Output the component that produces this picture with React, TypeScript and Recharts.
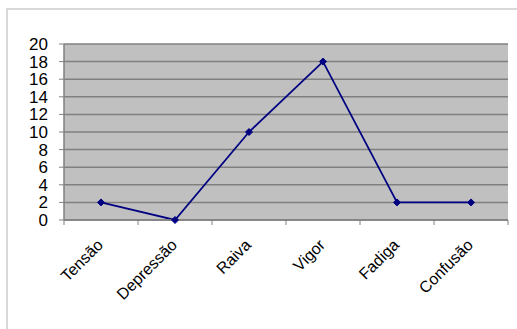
import React from 'react';
import { LineChart, Line, XAxis, YAxis, CartesianGrid } from 'recharts';

const categories = ['Tensão', 'Depressão', 'Raiva', 'Vigor', 'Fadiga', 'Confusão'];
const values = [2, 0, 10, 18, 2, 2];
const yTicks = [0, 2, 4, 6, 8, 10, 12, 14, 16, 18, 20];

const data = categories.map((name, i) => ({ name, value: values[i] }));

const W = 517;
const H = 329;
const margin = { top: 44, right: 9, left: 0, bottom: 0 };
const yAxisWidth = 64;
const xAxisHeight = 109;
const plotW = W - margin.left - margin.right - yAxisWidth;
const band = plotW / categories.length;
const FONT = "'Liberation Sans', Arial, sans-serif";
const yLabelRight = margin.left + yAxisWidth - 5 - 11;

const Diamond = (props: any) => {
  const { cx, cy } = props;
  if (cx == null || cy == null) return null;
  const r = 3.5;
  return (
    <path
      d={`M${cx},${cy - r} L${cx + r},${cy} L${cx},${cy + r} L${cx - r},${cy} Z`}
      fill="#000080"
      stroke="#000080"
    />
  );
};

const XTick = (props: any) => {
  const { x, y, payload, index } = props;
  const left = x - band / 2;
  const ax = x + 3;
  const ay = y + 18;
  return (
    <g>
      <line x1={left} y1={y - 8} x2={left} y2={y - 3} stroke="#808080" strokeWidth={1} />
      {index === categories.length - 1 && (
        <line x1={x + band / 2} y1={y - 8} x2={x + band / 2} y2={y - 3} stroke="#808080" strokeWidth={1} />
      )}
      <text
        x={ax}
        y={ay}
        textAnchor="end"
        transform={`rotate(-45 ${ax} ${ay})`}
        fontSize={16}
        fontFamily={FONT}
        fill="#000"
      >
        {payload.value}
      </text>
    </g>
  );
};

const YTick = (props: any) => {
  const { y, payload } = props;
  return (
    <text
      x={yLabelRight}
      y={y}
      dy="0.355em"
      textAnchor="end"
      fontSize={17}
      fontFamily={FONT}
      fill="#000"
    >
      {payload.value}
    </text>
  );
};

export default function App() {
  return (
    <div style={{ position: 'absolute', left: 0, top: 0, width: W, height: H, background: '#fff', overflow: 'hidden' }}>
      <div
        style={{
          position: 'absolute',
          left: 6,
          top: 8,
          width: 530,
          height: 340,
          border: '2px solid #d9d9d9',
          boxSizing: 'border-box',
        }}
      />
      <div style={{ position: 'absolute', left: 0, top: 0 }}>
        <LineChart width={W} height={H} data={data} margin={margin}>
          <CartesianGrid
            horizontal
            vertical={false}
            fill="#c0c0c0"
            stroke="#808080"
            strokeWidth={1.5}
          />
          <XAxis
            dataKey="name"
            height={xAxisHeight}
            interval={0}
            padding={{ left: band / 2, right: band / 2 }}
            tickLine={false}
            axisLine={{ stroke: '#808080', strokeWidth: 1.5 }}
            tick={<XTick />}
          />
          <YAxis
            domain={[0, 20]}
            ticks={yTicks}
            interval={0}
            width={yAxisWidth}
            tickSize={5}
            tickLine={{ stroke: '#808080' }}
            axisLine={{ stroke: '#808080', strokeWidth: 1.5 }}
            tick={<YTick />}
          />
          <Line
            type="linear"
            dataKey="value"
            stroke="#000080"
            strokeWidth={1.8}
            dot={<Diamond />}
            activeDot={false}
            isAnimationActive={false}
          />
        </LineChart>
      </div>
    </div>
  );
}
